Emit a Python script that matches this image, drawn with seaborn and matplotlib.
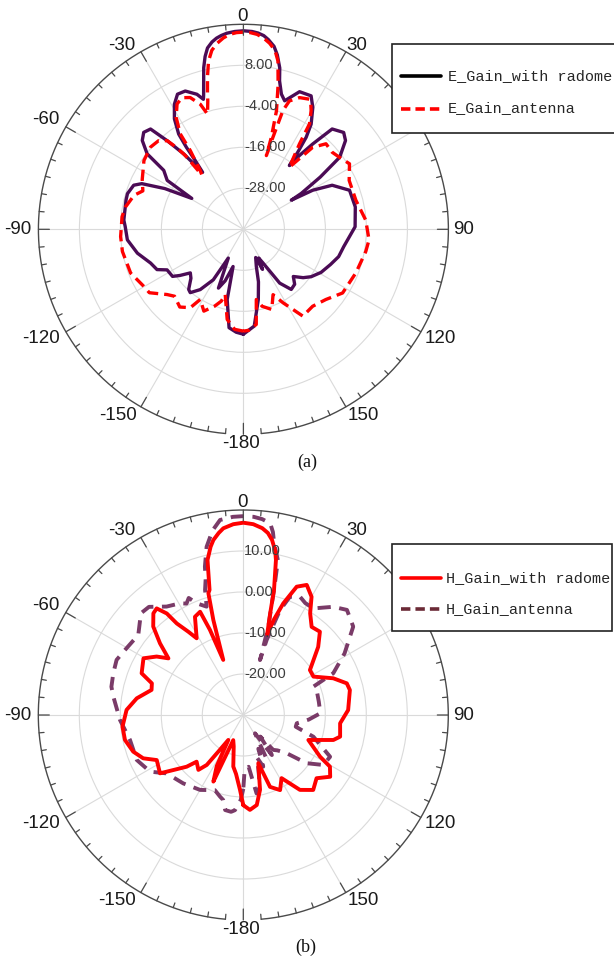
import numpy as np
import pandas as pd
import matplotlib
matplotlib.use("Agg")
import matplotlib.pyplot as plt
import matplotlib.transforms as mtransforms
from matplotlib.lines import Line2D
from matplotlib.patches import Rectangle
import seaborn as sns

sns.set_theme(style="white")
plt.rcParams['font.family'] = ['Liberation Sans', 'DejaVu Sans']

# ---------------- data (angle in degrees, gain in dB) ----------------
e_radome_ang = [-180, -176, -171.7, -167, -164.5, -160.5, -157, -152.3, -149.2, -144.4, -140, -137.7,
                -133, -129.4, -126, -123.6, -118, -115, -110, -102.7, -95.2, -88.7, -85.6, -76.1,
                -72.9, -68.1, -65.8, -62.6, -59.1, -57.3, -53.5, -51.9, -48.7, -45.8, -42.8, -40.7,
                -38.4, -35.6, -35, -34.8, -34.2, -32, -28.9, -26, -22.8, -19, -17.1, -16.5, -13.8,
                -12.5, -11.2, -9.5, -8, -6.5, -4.8, -2.5, 0, 2.5, 4.3, 6, 7.5, 9.5, 11, 12.7, 13.7,
                15.7, 17.8, 22.2, 26.9, 29.7, 32.8,
                34.3, 35.2, 35.8, 37.2, 39.1, 41.5, 46, 49, 53.2, 55.8, 58.2, 58.7, 60.6, 63.6,
                69.8, 78.7, 88.7, 99.8, 106, 112, 119, 125, 129, 133.4, 137, 141.5, 146, 149.8,
                152, 154.5, 156.5, 160.8, 164, 168, 173.6, 180]
e_radome_db = [-9.3, -9.8, -10.9, -18.9, -28.7, -24, -21.3, -30.5, -22.8, -18.3, -15.8, -16.2,
               -19, -19.9, -17, -15.1, -14.7, -12.1, -11.1, -8.2, -5.9, -5.4, -4.9, -4.6,
               -4.5, -5.4, -7.4, -14.1, -22.4, -13.5, -11, -4.2, -0.6, 0.7, 0.0, -5.8,
               -11.8, -19.5, -15.4, -10.8, -6.3, -1.9, 1.8, 4.0, 3.9, 1.8, -0.2, 1.0, 8.7,
               11.8, 14.1, 15.6, 16.5, 17.1, 17.6, 17.95, 18.1, 17.95, 17.6, 17.0, 16.0, 14.3, 12.0,
               8.4, 4.7, 1.1, -0.5, 3.5, 3.8, 1.0, -3.4,
               -7.4, -12.4, -17, -12.9, -7.8, -0.8, 0.8, -0.4, -4.8, -12.8, -20.1, -23.6, -16.7, -11,
               -6.9, -6.6, -7.3, -10.2, -11, -12.5, -14, -15.8, -17.5, -19.9, -18, -17.5, -21, -28.6,
               -30.5, -27, -31, -28.5, -24, -19, -11.5, -9.3]

e_antenna_ang = [-180, -175, -169.8, -164.4, -162.9, -159.5, -154.2, -148.4, -145.9, -140.7, -134.2,
                 -130.5, -124, -119.8, -111.2, -100.4, -93.4, -84.1, -79.2, -72.7, -69.1, -63.8,
                 -55.3, -48.5, -43.7, -40.7, -39.2, -38.2, -37.4, -36.3, -34, -33.5, -31, -27.9,
                 -25, -22, -19, -17.3, -15.5, -14.9, -13.2, -11.7, -10, -8, -6, -4, -2, 0, 2, 4, 6,
                 8, 10, 11.6, 13.5, 15.6,
                 16.9, 17.3, 17.8, 18.4, 19.7, 23.1, 26.9, 28.3, 29.7, 32.1, 33.3, 36.5, 40.2, 44,
                 49, 53, 58.3, 65.2, 75.5, 85.7, 94.8, 100.3, 111.2, 122.7, 130.4, 138, 145.6,
                 151.7, 155.6, 160.5, 166.3, 169.6, 172.3, 177, 180]
e_antenna_db = [-10.2, -10.6, -13.2, -20.2, -18, -16, -13.4, -15.9, -12.3, -10.6, -11.9,
                -10.6, -6.8, -6.4, -4.6, -4.0, -4.0, -4.3, -4.9, -6.5, -8.5, -7.0,
                -4.6, -3.7, -4.1, -5.8, -9.2, -12.5, -20, -18.6, -12.2, -6.5, -1.8, 1.5,
                2.5, 1.6, -1.3, -4.7, -1.0, 0.9, 6.0, 10.3, 13.2, 15.0, 16.3, 17.2, 17.6, 17.7, 17.6,
                17.2, 16.3, 15.0, 13.2, 10.3, 3.5, -4.0,
                -11.9, -17.4, -11.7, -3.4, -0.1, 1.9, 2.7, 1.6, 0.0, -3.6, -10.1, -17.4, -8.6, -5.2,
                -5.6, -4.9, -3.5, -5.9, -6.0, -4.1, -3.1, -3.6, -4.7, -5.5, -8.3, -9.7, -9.2,
                -15.6, -19, -15.1, -16.8, -19.1, -11.9, -10.4, -10.2]

h_radome_ang = [-180, -177.5, -173, -169, -163, -158.2, -155.8, -152.5, -149, -145.7, -143.8, -140.7,
                -135, -132.4, -128.2, -125, -117.5, -113.4, -108.4, -101.9, -95.5, -87.5, -81.1,
                -74.7, -70.9, -67.7, -60.4, -56, -52.9, -49.3, -45.5, -41.5, -39.1, -37, -36,
                -33.4, -31.3, -26.2, -22.7, -21.4, -20, -17.5, -16, -15.1, -13, -11, -9.7, -7.7,
                -6.1, -3, 0, 3, 5.8, 7.7, 9.3, 11, 11.9, 13.8, 14.8, 16.5, 17.8, 19.7, 22.6, 26, 30,
                33.3, 37.8, 42.6,
                47.7, 56, 61.3, 67.8, 73, 76.8, 87.3, 94.9, 102.6, 105.5, 111, 118.5, 120.8,
                125.4, 130.8, 137, 142.9, 148.8, 153.9, 159.6, 162.7, 167.4, 171.5, 176, 180]
h_radome_db = [-8.0, -11.7, -15.5, -17.2, -22, -23.4, -12.2, -16, -22.9, -19.2, -14.9, -12.7,
               -13.9, -11.3, -8.3, -5.2, -6.2, -3.4, -1.7, -0.5, -0.4, -1.5, -3.7,
               -6.8, -6.4, -3.2, -2.0, -4.5, -7.1, -3.2, 0.8, 3.1, 3.5, 1.0, -2.4,
               -5.7, -8.1, -3.3, -2.7, -7.7, -15.7, -5.7, 0.9, 1.6, 8.8, 11.8, 13.3, 14.8,
               15.8, 16.6, 16.9, 16.6, 15.8, 14.8, 13.3, 10.8, 8.6, 1.4, -4.3, -9.5, -5.5, -1.1, 3.9,
               5.3, 3.3, -0.3, -2.8, -2.4,
               -5.3, -10.4, -10.5, -6.3, -3.6, -3.3, -4.4, -6.3, -5.8, -7.2, -13, -8.7, -5.4,
               -4.0, -6.4, -5.0, -7.1, -12.0, -9.6, -11.3, -17.7, -11.3, -7.8, -6.8, -8.0]

h_antenna_ang = [-180, -178.3, -175, -172.8, -169.2, -166.7, -164.1, -159.3, -150, -138.7, -127.3,
                 -121.3, -112.9, -102.4, -92.3, -82, -77.9, -72.2, -66.5, -61, -56, -52.7, -45.2,
                 -41.1, -38.6, -35.3, -29.5, -27, -25, -22.6, -18.7, -17, -15.6, -14.5, -12.3,
                 -9.5, -6.8, -3, 0, 3, 5.5, 8, 9.2, 10.2, 12.6, 13.6, 15.8, 16.9, 17.3, 19.3, 21.5,
                 25.6, 29,
                 33.3, 39.7, 44.6, 51.2, 56.6, 58.7, 65.1, 68, 73.6, 80, 88.7, 94, 98.8, 102.6,
                 107.2, 115.7, 122, 127.3, 131.4, 136, 139.4, 141.8, 144.5, 147.4, 152, 156,
                 158.9, 162, 164.6, 167, 170.4, 171.9, 174.1, 178.6, 180]
h_antenna_db = [-12, -9.3, -6.7, -6.2, -6.4, -8.7, -9.3, -10.4, -8.9, -7.8, -6.5,
                -3.4, -1.8, -1.7, 0.1, 2.0, 2.9, 3.3, 3.7, 2.9, 2.4, 2.2, 5.2,
                5.0, 3.8, 2.4, 1.3, 0.5, 1.5, -0.5, -2.1, 1.9, 4.2, 7.4, 12.0,
                15.6, 17.9, 18.4, 18.5, 18.4, 18.0, 17.2, 15.2, 12.5, 8.7, 2.5, -7.6, -16, -10.8, -2.9,
                1.0, 2.0, 1.2,
                1.1, 4.3, 6.0, 4.4, 0.2, -1.1, -5.8, -11.6, -11.2, -11.3, -11.2, -14, -16.8, -16.9,
                -12.1, -6.5, -7.0, -10.6, -15.9, -18, -18.8, -23.3, -18, -24.7, -18, -21,
                -16.5, -19, -16.1, -12, -10.6, -14, -17.3, -16.6, -12]

angle_ticks = [-180, -150, -120, -90, -60, -30, 0, 30, 60, 90, 120, 150]
angle_labels = ["-180", "-150", "-120", "-90", "-60", "-30", "0", "30", "60", "90", "120", "150"]

top_rings = [-28, -16, -4, 8]
top_ring_labels = ["-28.00", "-16.00", "-4.00", "8.00"]
bot_rings = [-20, -10, 0, 10]
bot_ring_labels = ["-20.00", "-10.00", "0.00", "10.00"]

top_names = ["E_Gain_with radome", "E_Gain_antenna"]
bot_names = ["H_Gain_with radome", "H_Gain_antenna"]

# ---------------- layout ----------------
W, H = 614, 959
R = 205
fig = plt.figure(figsize=(W / 100, H / 100), dpi=100)

# label centre offsets (px) from chart centre, per angle; the 60 label sits under the legend
label_off = {0: (-0.6, -212.6), 30: (113.7, -184.3), 90: (220.6, 0),
             120: (197.1, 109), 150: (119.6, 185.7), -180: (-2.6, 214), -150: (-125.9, 185.7),
             -120: (-202.3, 109), -90: (-225.8, 0), -60: (-197.2, -109.3), -30: (-121.2, -184.3)}


def make_polar(cx, cy):
    ax = fig.add_axes([(cx - R) / W, 1 - (cy + R) / H, 2 * R / W, 2 * R / H], projection='polar')
    ax.set_theta_zero_location('N')
    ax.set_theta_direction(-1)
    ax.set_facecolor('white')
    return ax


def finish_polar(ax, rmin, rmax, rings, ring_labels):
    ax.set_xlim(-np.pi, np.pi)
    ax.set_ylim(rmin, rmax)
    ax.set_xticks(np.radians(angle_ticks))
    ax.set_xticklabels([])
    ax.set_yticks(rings)
    ax.set_yticklabels([])
    ax.set_xlabel('')
    ax.set_ylabel('')
    ax.grid(True, color='#dadada', lw=0.8)
    ax.spines['polar'].set_visible(False)
    ax.tick_params(axis='both', length=0, pad=0)
    pxdb = R / (rmax - rmin)
    arc = np.radians(np.linspace(-175, 175, 701))
    ax.plot(arc, np.full(arc.shape, float(rmax)), color='#4a4a4a', lw=1.0, clip_on=False, zorder=4)
    tx, ty = [], []
    for a in range(-180, 180, 5):
        L = 11 if a % 30 == 0 else 5
        tx += [np.radians(a), np.radians(a), np.nan]
        ty += [rmax - L / pxdb, rmax, np.nan]
    ax.plot(tx, ty, color='#4a4a4a', lw=0.9, clip_on=False, zorder=4)
    off = mtransforms.offset_copy(ax.transData, fig=fig, x=1.0, y=0, units='dots')
    for r, lab in zip(rings, ring_labels):
        ax.text(0, r, lab, transform=off, ha='left', va='center', fontsize=10.5,
                color='#3c3c3c', zorder=5)
    for a, lab in zip(angle_ticks, angle_labels):
        if a not in label_off:
            continue
        dx, dy = label_off[a]
        ax.text(0.5 + dx / (2 * R), 0.5 - dy / (2 * R), lab, transform=ax.transAxes,
                ha='center', va='center', fontsize=13.5, color='#1a1a1a', clip_on=False)


def draw_legend(x0, y0, x1, y1, tx, rows, handles):
    fig.add_artist(Rectangle((x0 / W, 1 - y1 / H), (x1 - x0) / W, (y1 - y0) / H,
                             transform=fig.transFigure, facecolor='white', edgecolor='#222222',
                             lw=1.2, zorder=10))
    for (ry, name), (col, ls) in zip(rows, handles):
        fig.add_artist(Line2D([400.5 / W, 441 / W], [1 - ry / H, 1 - ry / H],
                              transform=fig.transFigure, color=col, lw=2.6, linestyle=ls, zorder=11))
        fig.text(tx / W, 1 - ry / H, name, ha='left', va='center', fontsize=10.9,
                 family=['Liberation Mono', 'DejaVu Sans Mono'], color='#262626', zorder=11)


# ---------------- top chart (a) ----------------
ax1 = make_polar(243.4, 229.3)
df_e1 = pd.DataFrame({"theta": np.radians(e_radome_ang), "gain": e_radome_db})
df_e2 = pd.DataFrame({"theta": np.radians(e_antenna_ang), "gain": e_antenna_db})
sns.lineplot(data=df_e1, x="theta", y="gain", ax=ax1, sort=False, estimator=None,
             color='#4b0b55', lw=2.4, zorder=3)
sns.lineplot(data=df_e2, x="theta", y="gain", ax=ax1, sort=False, estimator=None,
             color='#ff0000', lw=2.4, linestyle=(0, (3.4, 1.8)), zorder=3)
finish_polar(ax1, -40, 20, top_rings, top_ring_labels)

# ---------------- bottom chart (b) ----------------
ax2 = make_polar(243.3, 715)
df_h1 = pd.DataFrame({"theta": np.radians(h_radome_ang), "gain": h_radome_db})
df_h2 = pd.DataFrame({"theta": np.radians(h_antenna_ang), "gain": h_antenna_db})
sns.lineplot(data=df_h2, x="theta", y="gain", ax=ax2, sort=False, estimator=None,
             color='#7a3b68', lw=2.8, linestyle=(0, (3.4, 2.2)), zorder=3)
sns.lineplot(data=df_h1, x="theta", y="gain", ax=ax2, sort=False, estimator=None,
             color='#ff0000', lw=2.8, zorder=3)
finish_polar(ax2, -30, 20, bot_rings, bot_ring_labels)

# ---------------- legends ----------------
draw_legend(392.3, 44, 622, 133, 448, [(75.7, top_names[0]), (108.5, top_names[1])],
            [('#000000', '-'), ('#ff0000', (0, (2.6, 1.4)))])
draw_legend(392.3, 543.5, 611.7, 631, 446, [(577.7, bot_names[0]), (609.3, bot_names[1])],
            [('#ff0000', '-'), ('#6b2a36', (0, (2.6, 1.4)))])

# ---------------- captions ----------------
fig.text(307 / W, 1 - 462 / H, "(a)", ha='center', va='center', fontsize=13,
         family=['Liberation Serif', 'DejaVu Serif'], color='#111111')
fig.text(306 / W, 1 - 947 / H, "(b)", ha='center', va='center', fontsize=13,
         family=['Liberation Serif', 'DejaVu Serif'], color='#111111')

fig.savefig("out.png", dpi=100, facecolor='white')
